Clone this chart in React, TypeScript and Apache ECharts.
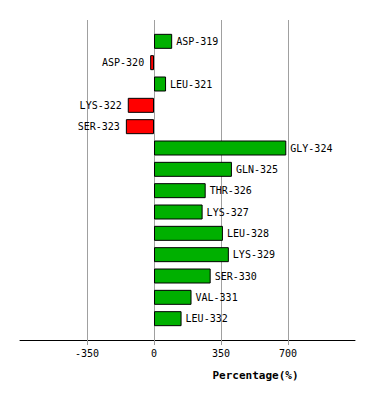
import React, { useEffect, useRef } from "react";
import * as echarts from "echarts";

const categories = [
  "ASP-319", "ASP-320", "LEU-321", "LYS-322", "SER-323", "GLY-324", "GLN-325",
  "THR-326", "LYS-327", "LEU-328", "LYS-329", "SER-330", "VAL-331", "LEU-332",
];
const values = [95, -20, 63, -137, -147, 691, 407, 270, 254, 360, 391, 296, 196, 144];
const xTicks = [-350, 0, 350, 700];

const GREEN = "#00b000";
const RED = "#ff0000";
const FONT = "DejaVu Sans Mono";

export default function App() {
  const ref = useRef<HTMLDivElement>(null);
  useEffect(() => {
    const chart = echarts.init(ref.current!, null, { renderer: "svg" });
    const yData = ["", ...categories, ""];
    const seriesData: any[] = [
      null,
      ...values.map((v, i) => ({
        value: v,
        itemStyle: { color: v >= 0 ? GREEN : RED },
        label: {
          show: true,
          position: v >= 0 ? "right" : "left",
          distance: v >= 0 ? 4 : 6,
          formatter: categories[i],
        },
      })),
      null,
    ];
    chart.setOption({
      animation: false,
      grid: { left: 20, right: 19, top: 20, height: 320 },
      xAxis: {
        type: "value",
        min: -700,
        max: 1050,
        interval: 350,
        axisLine: { show: true, lineStyle: { color: "#000", width: 1 } },
        axisTick: {
          show: true,
          length: 5,
          customValues: xTicks,
          lineStyle: { color: "#999" },
        },
        axisLabel: {
          fontFamily: FONT,
          fontSize: 10,
          color: "#000",
          margin: 8,
          customValues: xTicks,
          formatter: (v: number) => (xTicks.includes(v) ? String(v) : ""),
        },
        splitLine: {
          show: true,
          lineStyle: { color: "#a0a0a0", width: 1 },
        },
        name: "Percentage(%)",
        nameLocation: "middle",
        nameGap: 30,
        nameTextStyle: {
          fontFamily: FONT,
          fontSize: 11,
          fontWeight: "bold",
          color: "#000",
          padding: [0, 0, 0, 136],
        },
      },
      yAxis: {
        type: "category",
        data: yData,
        inverse: true,
        boundaryGap: false,
        axisLine: { show: false },
        axisTick: { show: false },
        axisLabel: { show: false },
        splitLine: { show: false },
      },
      series: [
        {
          type: "bar",
          data: seriesData,
          barWidth: 15,
          itemStyle: { borderColor: "#000", borderWidth: 1 },
          label: {
            fontFamily: FONT,
            fontSize: 10,
            color: "#000",
          },
        },
      ],
    });
    return () => chart.dispose();
  }, []);
  return (
    <div
      ref={ref}
      style={{ position: "absolute", left: 0, top: 0, width: 374, height: 400, background: "#fff" }}
    />
  );
}
